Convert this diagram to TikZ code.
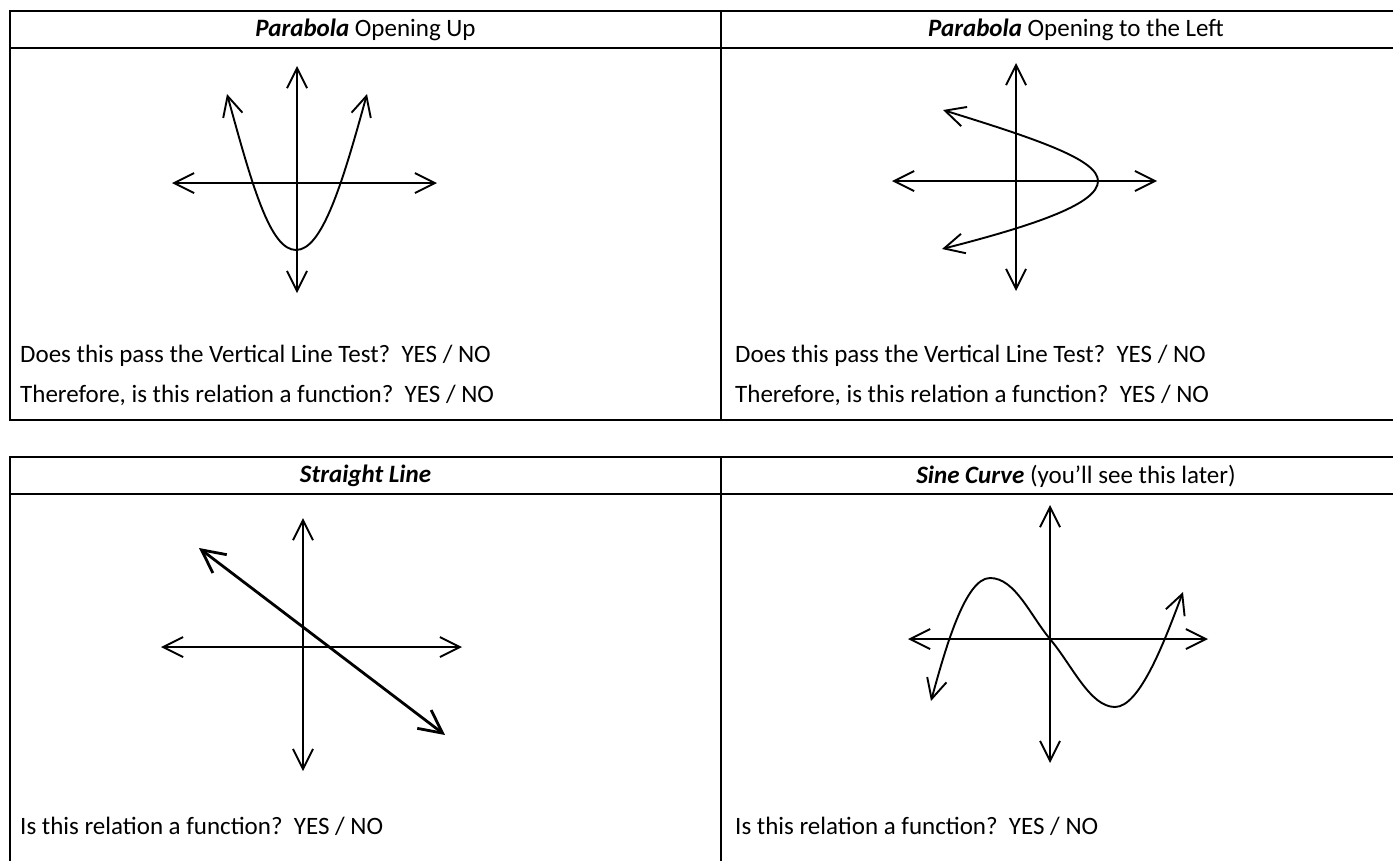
\documentclass[tikz,border=0pt]{standalone}
\usepackage{fontspec}
\setmainfont{Carlito}
\usetikzlibrary{arrows.meta}
\tikzset{
  rule/.style={line width=2pt, line cap=rect},
  ax/.style={line width=1.9pt, {Straight Barb[length=20pt,width=20pt]}-{Straight Barb[length=20pt,width=20pt]}},
  crv/.style={line width=1.9pt, {Straight Barb[length=20pt,width=20pt]}-{Straight Barb[length=20pt,width=20pt]}},
  bold line/.style={line width=2.8pt, {Straight Barb[length=23pt,width=23pt]}-{Straight Barb[length=23pt,width=23pt]}},
  txt/.style={inner sep=0pt, anchor=west, font=\fontsize{25}{30}\selectfont},
  head/.style={inner sep=0pt, anchor=center, font=\fontsize{25}{30}\selectfont},
}
\begin{document}
\begin{tikzpicture}[x=1pt,y=-1pt]
\useasboundingbox (0,0) rectangle (1393,860);
% ---- table 1 ----
\draw[rule] (10,11) -- (1400,11);
\draw[rule] (10,48) -- (1400,48);
\draw[rule] (10,420) -- (1400,420);
\draw[rule] (10,11) -- (10,420);
\draw[rule] (721,11) -- (721,420);
% ---- table 2 ----
\draw[rule] (10,457) -- (1400,457);
\draw[rule] (10,494) -- (1400,494);
\draw[rule] (10,457) -- (10,870);
\draw[rule] (721,457) -- (721,870);
% ---- headers ----
\node[head] (h1) at (365.5,30) {\textbf{\textit{Parabola}} Opening Up};
\node[head] (h2) at (1076,30) {\textbf{\textit{Parabola}} Opening to the Left};
\node[head] (h3) at (365.5,476) {\textbf{\textit{Straight Line}}};
\node[head] (h4) at (1076,476) {\textbf{\textit{Sine Curve}} (you’ll see this later)};
% ---- questions ----
\node[txt] (q1) at (20,356) {Does this pass the Vertical Line Test?\ \ YES / NO};
\node[txt] (q2) at (20,395) {Therefore, is this relation a function?\ \ YES / NO};
\node[txt] (q3) at (735,356) {Does this pass the Vertical Line Test?\ \ YES / NO};
\node[txt] (q4) at (735,395) {Therefore, is this relation a function?\ \ YES / NO};
\node[txt] (q5) at (20,826) {Is this relation a function?\ \ YES / NO};
\node[txt] (q6) at (735,826) {Is this relation a function?\ \ YES / NO};
% ---- graph 1: parabola up ----
\draw[ax] (297,293) -- (297,66);
\draw[ax] (172,183) -- (437,183);
\draw[crv] (227,94) .. controls (252,185) and (270,250) .. (296,250)
  .. controls (322,250) and (342,185) .. (367,94);
% ---- graph 2: parabola left ----
\draw[ax] (1016,291) -- (1016,63);
\draw[ax] (892,181) -- (1157,181);
\draw[crv] (943,110) .. controls (1040,140) and (1098,160) .. (1098,181)
  .. controls (1098,203) and (1040,224) .. (942,249);
% ---- graph 3: straight line ----
\draw[ax] (303,771) -- (303,518);
\draw[ax] (161,647) -- (462,647);
\draw[bold line] (199,548) -- (445,735);
% ---- graph 4: sine ----
\draw[ax] (1050,763) -- (1050,505);
\draw[ax] (908,639) -- (1208,639);
\draw[crv] (931,701) .. controls (945,650) and (965,578) .. (990,578)
  .. controls (1015,578) and (1030,615) .. (1050,639)
  .. controls (1072,665) and (1090,707) .. (1115,707)
  .. controls (1140,707) and (1165,640) .. (1183,592);
\end{tikzpicture}
\end{document}
